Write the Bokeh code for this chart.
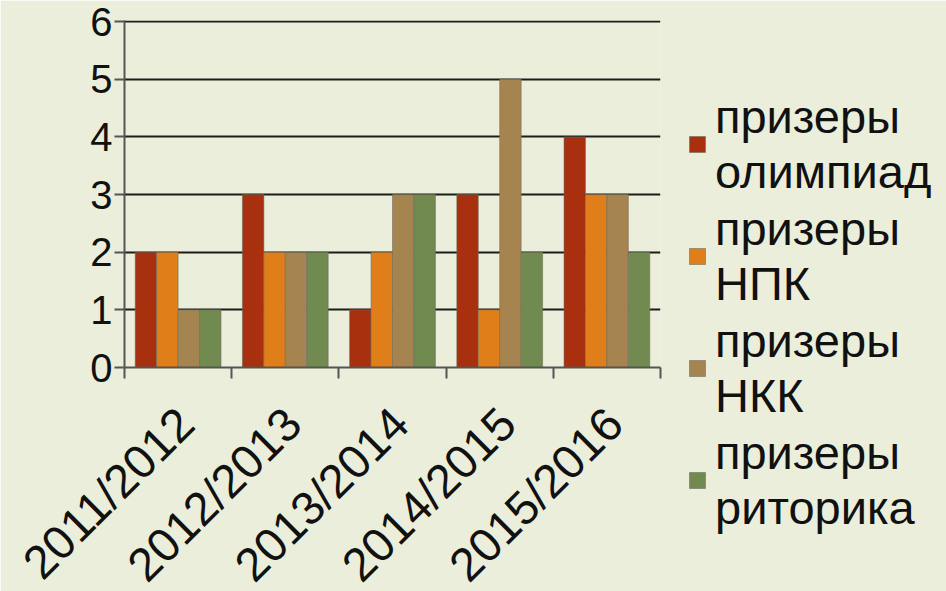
from math import pi
from bokeh.plotting import figure
from bokeh.models import (Range1d, FixedTicker, Legend, LegendItem, ColumnDataSource)
from bokeh.transform import dodge
from bokeh.embed import file_html
from bokeh.resources import INLINE

years = ["2011/2012", "2012/2013", "2013/2014", "2014/2015", "2015/2016"]
olymp = [2, 3, 1, 3, 4]
npk = [2, 2, 2, 1, 3]
nkk = [1, 2, 3, 5, 3]
ritor = [1, 2, 3, 2, 2]
series_names = ["призеры\nолимпиад", "призеры\nНПК", "призеры\nНКК", "призеры\nриторика"]
colors = ["#A8300F", "#E07F1A", "#A6844F", "#718A50"]
y_ticks = [0, 1, 2, 3, 4, 5, 6]

BG = "#EAEEDA"
FONT = "Liberation Sans"

centers = [i + 0.5 for i, _ in enumerate(years)]
bounds = [i for i in range(len(years) + 1)]
label_pos = [c + 0.07 for c in centers]

src = ColumnDataSource(dict(x=centers, year=years, olymp=olymp, npk=npk, nkk=nkk, ritor=ritor))

p = figure(frame_width=536, frame_height=347, x_range=Range1d(0, len(years)), y_range=Range1d(0, 6.02),
           output_backend="svg", toolbar_location=None,
           min_border_left=124, min_border_top=20, min_border_bottom=200, min_border_right=270)
p.background_fill_color = BG
p.border_fill_color = BG
p.outline_line_color = None

renderers = []
offsets = [-0.3, -0.1, 0.1, 0.3]
for col, off, c in zip(["olymp", "npk", "nkk", "ritor"], offsets, colors):
    r = p.vbar(x=dodge("x", off, range=p.x_range), top=col, width=0.2, bottom=0, source=src,
               fill_color=c, line_color="#6c6c5c", line_alpha=0.55, line_width=1)
    renderers.append(r)

# grid
p.xgrid.grid_line_color = None
p.ygrid.ticker = FixedTicker(ticks=y_ticks)
p.ygrid.grid_line_color = "#1c1c1c"
p.ygrid.grid_line_width = 2

# y axis
p.yaxis.ticker = FixedTicker(ticks=y_ticks)
p.yaxis.major_label_text_font = FONT
p.yaxis.major_label_text_font_size = "40px"
p.yaxis.major_label_text_color = "#111111"
p.yaxis.axis_line_color = "#555555"
p.yaxis.axis_line_width = 2
p.yaxis.major_tick_line_color = "#555555"
p.yaxis.major_tick_line_width = 2
p.yaxis.major_tick_out = 10
p.yaxis.major_tick_in = 0
p.yaxis.minor_tick_line_color = None
p.yaxis.major_label_standoff = 2

# x axis: labels at centers, tick marks at category boundaries (minor ticks)
p.xaxis.ticker = FixedTicker(ticks=label_pos, minor_ticks=bounds)
p.xaxis.major_label_overrides = {c: y for c, y in zip(label_pos, years)}
p.xaxis.major_label_orientation = pi / 4
p.xaxis.major_label_text_font = FONT
p.xaxis.major_label_text_font_size = "47px"
p.xaxis.major_label_text_color = "#111111"
p.xaxis.major_tick_out = 0
p.xaxis.major_tick_in = 0
p.xaxis.major_tick_line_color = None
p.xaxis.minor_tick_out = 11
p.xaxis.minor_tick_in = 0
p.xaxis.minor_tick_line_color = "#555555"
p.xaxis.minor_tick_line_width = 2
p.xaxis.axis_line_color = "#555555"
p.xaxis.axis_line_width = 2
p.xaxis.major_label_standoff = 37

items = [LegendItem(label=n, renderers=[r]) for n, r in zip(series_names, renderers)]
legend = Legend(items=items, location=(27, -168), orientation="vertical",
                label_text_font=FONT, label_text_font_size="47px", label_text_color="#111111",
                label_text_line_height=1.3,
                glyph_width=20, glyph_height=20, label_standoff=8, spacing=2,
                padding=0, margin=0, border_line_color=None, background_fill_alpha=0)
p.add_layout(legend, "right")

open("out.html", "w").write(file_html(p, INLINE))
